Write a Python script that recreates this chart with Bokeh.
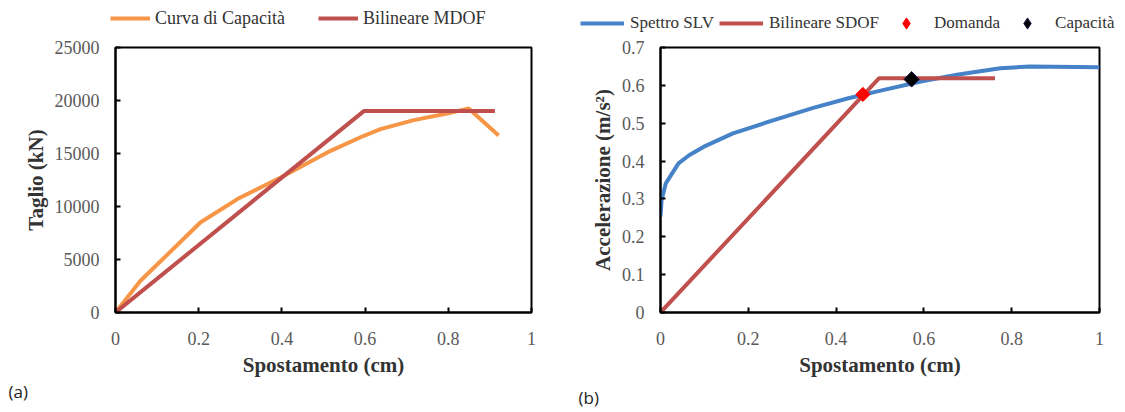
from bokeh.plotting import figure
from bokeh.models import (Range1d, FixedTicker, NumeralTickFormatter, Legend, LegendItem, Label)
from bokeh.layouts import row, column
from bokeh.embed import file_html
from bokeh.resources import INLINE
import math

# ---------------- data: panel (a) ----------------
cap_x = [0, 0.060, 0.204, 0.293, 0.397, 0.517, 0.597, 0.637, 0.717, 0.797, 0.849, 0.921]
cap_y = [0, 2990, 8490, 10700, 12740, 15250, 16670, 17300, 18150, 18780, 19250, 16700]
mdof_x = [0, 0.597, 0.912]
mdof_y = [0, 19000, 19000]
a_xticks = [0, 0.2, 0.4, 0.6, 0.8, 1]
a_yticks = [0, 5000, 10000, 15000, 20000, 25000]

# ---------------- data: panel (b) ----------------
slv_x = [0, 0.0025, 0.012, 0.041, 0.066, 0.099, 0.165, 0.247, 0.346, 0.428, 0.494,
         0.593, 0.675, 0.774, 0.84, 1.0]
slv_y = [0.253, 0.297, 0.341, 0.394, 0.416, 0.438, 0.473, 0.504, 0.540, 0.566, 0.584,
         0.610, 0.628, 0.645, 0.650, 0.648]
sdof_x = [0, 0.498, 0.762]
sdof_y = [0, 0.619, 0.619]
dom_x, dom_y = [0.461], [0.576]
capac_x, capac_y = [0.572], [0.616]
b_xticks = [0, 0.2, 0.4, 0.6, 0.8, 1]
b_yticks = [0, 0.1, 0.2, 0.3, 0.4, 0.5, 0.6, 0.7]

ORANGE = "#F79646"
RED = "#C0504D"
BLUE = "#4682C8"
SERIF = "Liberation Serif"
TICK_COL = "#595959"
LAB_COL = "#333333"

WA = 575   # width of left column
WB = 548   # width of right column
H_LEG = 37
H_LAB = 32
TOP = 10   # room above the frame for the top tick label
BOTTOM = 68


def style(p, xticks, yticks, xlabel, ylabel, yfmt):
    p.xaxis.ticker = FixedTicker(ticks=xticks)
    p.yaxis.ticker = FixedTicker(ticks=yticks)
    p.xaxis.formatter = NumeralTickFormatter(format="0.[0]")
    p.yaxis.formatter = NumeralTickFormatter(format=yfmt)
    p.xaxis.axis_label = xlabel
    p.yaxis.axis_label = ylabel
    for ax in (p.xaxis, p.yaxis):
        ax.axis_line_width = 2
        ax.axis_line_color = "black"
        ax.major_tick_in = 5
        ax.major_tick_out = 0
        ax.major_tick_line_width = 2
        ax.major_tick_line_color = "black"
        ax.minor_tick_line_color = None
        ax.major_label_text_font = SERIF
        ax.major_label_text_font_size = "18px"
        ax.major_label_text_color = TICK_COL
        ax.axis_label_text_font = SERIF
        ax.axis_label_text_font_size = "21px"
        ax.axis_label_text_font_style = "bold"
        ax.axis_label_text_color = LAB_COL
    p.xaxis.major_label_standoff = 19
    p.yaxis.major_label_standoff = 16
    p.xaxis.axis_label_standoff = 5
    p.yaxis.axis_label_standoff = 4
    p.xgrid.grid_line_color = None
    p.ygrid.grid_line_color = None
    p.outline_line_color = "black"
    p.outline_line_width = 2
    p.outline_line_alpha = 1


def blank(width, height):
    # strip used only to hold a legend / panel tag; its view range holds none of the data
    f = figure(width=width, height=height, x_range=Range1d(-3, -2), y_range=Range1d(-3, -2),
               x_axis_location=None, y_axis_location=None, output_backend="svg",
               toolbar_location=None, min_border=0, outline_line_color=None)
    f.grid.visible = False
    return f


def make_legend(items, loc, gw, gh, std, spacing, fs):
    return Legend(items=items, orientation="horizontal", location=loc,
                  glyph_width=gw, glyph_height=gh, label_standoff=std, spacing=spacing,
                  padding=0, margin=0, border_line_color=None, background_fill_alpha=0,
                  label_text_font=SERIF, label_text_font_size=fs, label_text_color=LAB_COL)


def tag(text, x, y):
    return Label(x=x, y=y, x_units="screen", y_units="screen", text=text,
                 text_font="Open Sans", text_font_size="17px", text_color="#222222",
                 text_baseline="middle")


# ---------------- panel (a) ----------------
pa = figure(frame_width=416, frame_height=265, x_range=Range1d(0, 1), y_range=Range1d(0, 25000),
            output_backend="svg", toolbar_location=None,
            min_border_left=115, min_border_right=WA - 115 - 416, min_border_top=TOP,
            min_border_bottom=BOTTOM)
style(pa, a_xticks, a_yticks, "Spostamento (cm)", "Taglio (kN)", "0")
pa.line(cap_x, cap_y, line_color=ORANGE, line_width=4)
pa.line(mdof_x, mdof_y, line_color=RED, line_width=4)

leg_fa = blank(WA, H_LEG)
la1 = leg_fa.line(cap_x, cap_y, line_color=ORANGE, line_width=4)
la2 = leg_fa.line(mdof_x, mdof_y, line_color=RED, line_width=4)
leg_fa.add_layout(make_legend([LegendItem(label="Curva di Capacità", renderers=[la1]),
                               LegendItem(label="Bilineare MDOF", renderers=[la2])],
                              (110, 8), 40, 22, 5, 33, "18px"), "center")

lab_fa = blank(WA, H_LAB)
lab_fa.add_layout(tag("(a)", 8, 21))

# ---------------- panel (b) ----------------
pb = figure(frame_width=439, frame_height=265, x_range=Range1d(0, 1), y_range=Range1d(0, 0.7),
            output_backend="svg", toolbar_location=None,
            min_border_left=85, min_border_right=WB - 85 - 439, min_border_top=TOP,
            min_border_bottom=BOTTOM)
style(pb, b_xticks, b_yticks, "Spostamento (cm)", "Accelerazione (m/s²)", "0.[0]")
pb.line(slv_x, slv_y, line_color=BLUE, line_width=4)
pb.line(sdof_x, sdof_y, line_color=RED, line_width=4)
pb.scatter(dom_x, dom_y, marker="square", angle=math.pi / 4, size=10,
           fill_color="#FF0000", line_color="#FF0000", line_width=1)
pb.scatter(capac_x, capac_y, marker="square", angle=math.pi / 4, size=11,
           fill_color="black", line_color="#1E1E50", line_width=1)

leg_fb = blank(WB, H_LEG)
lb1 = leg_fb.line(slv_x, slv_y, line_color=BLUE, line_width=4)
lb2 = leg_fb.line(sdof_x, sdof_y, line_color=RED, line_width=4)
lb3 = leg_fb.scatter(dom_x, dom_y, marker="diamond", fill_color="#FF0000", line_color="#FF0000")
lb4 = leg_fb.scatter(capac_x, capac_y, marker="diamond", fill_color="black", line_color="#1E1E50")
leg_fb.add_layout(make_legend([LegendItem(label="Spettro SLV", renderers=[lb1]),
                               LegendItem(label="Bilineare SDOF", renderers=[lb2]),
                               LegendItem(label="Domanda", renderers=[lb3]),
                               LegendItem(label="Capacità", renderers=[lb4])],
                              (5, 0), 44, 28, 6, 5, "17px"), "center")

lab_fb = blank(WB, H_LAB)
lab_fb.add_layout(tag("(b)", 3, 15))

layout = column(row(leg_fa, leg_fb), row(pa, pb), row(lab_fa, lab_fb))
open("out.html", "w").write(file_html(layout, INLINE))
